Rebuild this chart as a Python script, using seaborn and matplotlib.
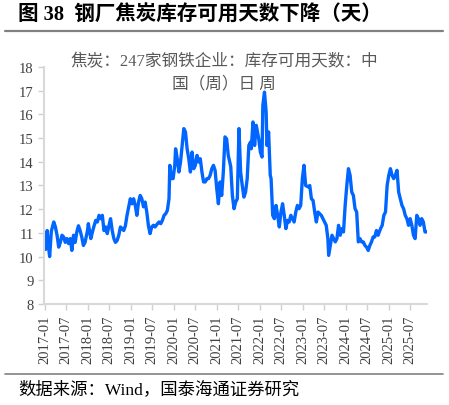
import numpy as np
import pandas as pd
import matplotlib
matplotlib.use('Agg')
import matplotlib.pyplot as plt
import matplotlib.dates as mdates
from matplotlib.lines import Line2D
import seaborn as sns

# weeks since 2017-01-06 and coke inventory days
weeks = [0, 2, 3, 5, 7, 8, 10, 12, 14, 16, 18, 20, 22, 24, 26, 28, 30, 32, 34, 36,
         38, 40, 42, 44, 46, 48, 51, 52, 55, 57, 59, 61, 63, 65, 67, 69, 71, 73, 75, 77,
         79, 81, 83, 85, 87, 89, 91, 93, 95, 97, 99, 101, 103, 105, 107, 109, 111, 113, 115, 117,
         119, 121, 123, 125, 127, 129, 131, 133, 136, 138, 140, 142, 144, 146, 148, 150, 151, 153, 155, 157,
         158, 160, 162, 164, 166, 168, 170, 172, 174, 176, 178, 180, 182, 184, 186, 188, 190, 192, 194, 196,
         198, 200, 202, 204, 206, 208, 210, 212, 214, 216, 218, 220, 222, 225, 227, 229, 231, 233, 235, 237,
         239, 241, 243, 245, 247, 249, 250, 252, 254, 256, 259, 261, 263, 264, 266, 268, 269, 271, 273, 274,
         276, 278, 280, 282, 284, 286, 288, 290, 292, 294, 296, 298, 300, 302, 304, 306, 308, 310, 312, 314,
         316, 319, 321, 323, 325, 327, 329, 331, 333, 335, 337, 339, 341, 343, 344, 346, 348, 350, 352, 354,
         356, 358, 360, 362, 364, 366, 368, 370, 372, 374, 376, 378, 380, 382, 384, 386, 388, 390, 392, 394,
         396, 398, 400, 402, 404, 407, 409, 411, 413, 415, 417, 419, 421, 423, 425, 427, 429, 431, 433, 435,
         437, 439, 441, 443, 445, 447, 449, 451, 453, 455, 457, 459, 461, 463]
days = [10.3, 11.1, 10.6, 10.0, 11.05, 11.2, 11.46, 11.25, 10.9, 10.4, 10.6, 10.9, 10.83, 10.6, 10.76, 10.55, 10.76, 10.26, 10.9, 10.6,
        11.04, 11.3, 11.1, 10.83, 10.47, 10.6, 11.1, 11.39, 10.76, 11.04, 11.3, 11.53, 11.46, 11.74, 11.6, 11.74, 11.1, 11.25, 10.97, 11.3,
        11.6, 11.1, 10.76, 10.6, 10.68, 10.9, 11.25, 11.18, 11.1, 11.3, 11.74, 12.1, 12.44, 12.23, 12.44, 12.16, 11.74, 12.3, 12.58, 12.44,
        12.1, 12.3, 11.88, 11.3, 10.97, 11.25, 11.32, 11.25, 11.39, 11.46, 11.39, 11.53, 11.74, 11.81, 11.95, 12.44, 13.85, 13.29, 13.29, 13.85,
        14.55, 14.13, 13.57, 13.99, 14.69, 15.4, 15.26, 14.55, 14.13, 13.57, 14.41, 13.71, 13.85, 14.27, 13.99, 14.13, 13.57, 13.15, 13.15, 13.29,
        13.29, 13.43, 13.71, 13.85, 13.64, 12.87, 12.23, 13.15, 12.58, 13.57, 15.05, 14.97, 14.27, 13.8, 12.58, 12.02, 12.3, 12.44, 15.4, 13.57,
        13.0, 12.51, 12.72, 13.29, 14.69, 14.83, 14.55, 15.68, 14.69, 15.54, 14.97, 14.41, 14.2, 16.38, 16.94, 16.1, 14.69, 15.26, 13.43, 13.29,
        11.74, 11.6, 12.16, 11.74, 11.25, 11.88, 12.23, 11.74, 11.18, 11.53, 11.46, 11.74, 11.6, 11.46, 11.88, 12.16, 12.02, 12.16, 13.29, 13.85,
        13.0, 12.94, 13.0, 12.44, 12.37, 11.88, 11.46, 11.88, 11.81, 11.74, 11.6, 11.46, 11.32, 10.76, 10.05, 10.47, 10.9, 10.76, 10.62, 10.76,
        11.32, 10.9, 11.18, 11.04, 12.16, 13.0, 13.71, 13.43, 12.72, 12.58, 12.02, 11.88, 10.62, 10.76, 10.62, 10.62, 10.47, 10.4, 10.26, 10.47,
        10.62, 10.83, 10.83, 11.1, 10.9, 11.18, 11.32, 11.74, 11.88, 13.0, 13.43, 13.71, 13.43, 13.29, 13.43, 13.64, 12.72, 12.44, 12.16, 12.02,
        11.74, 11.6, 11.32, 11.6, 11.32, 10.9, 10.76, 11.74, 11.6, 11.32, 11.6, 11.46, 11.04, 11.04]

yticks = list(range(8, 19))
xtick_dates = pd.date_range('2017-01-01', '2025-07-01', freq='6MS')

df = pd.DataFrame({
    'date': pd.Timestamp('2017-01-06') + pd.to_timedelta(np.array(weeks) * 7, unit='D'),
    'days': days,
})

sns.set_style('white')
plt.rcParams['font.family'] = ['Liberation Serif', 'Noto Sans CJK SC']

fig = plt.figure(figsize=(4.49, 4.06), dpi=100)
ax = fig.add_axes([0.098, 0.2488, 0.853, 0.5837])

sns.lineplot(data=df, x='date', y='days', ax=ax, color='#0066ff', lw=2.4)

ax.set_ylim(8, 18)
ax.set_yticks(yticks)
ax.set_xlim(pd.Timestamp('2016-12-24'), pd.Timestamp('2025-11-24'))
ax.set_xticks(xtick_dates)
ax.xaxis.set_major_formatter(mdates.DateFormatter('%Y-%m'))
ax.tick_params(axis='x', labelrotation=90, labelsize=10.5)
ax.tick_params(axis='y', labelsize=10.5)
ax.tick_params(axis='both', colors='#d0d0d0', labelcolor='#404040',
               length=4, width=1, direction='out', left=True, bottom=True)
ax.set_xlabel('')
ax.set_ylabel('')
for s in ['top', 'right']:
    ax.spines[s].set_visible(False)
for s in ['left', 'bottom']:
    ax.spines[s].set_color('#d9d9d9')
    ax.spines[s].set_linewidth(1.5)

# header, series name and source
fig.text(18 / 449, 1 - 16 / 406, '图 38  钢厂焦炭库存可用天数下降（天）', fontsize=14.8,
         fontweight='bold', va='center', ha='left', color='#000000')
fig.add_artist(Line2D([5 / 449, 443 / 449], [1 - 32 / 406] * 2, color='#808080', lw=1.6))
fig.text(224 / 449, 1 - 62 / 406, '焦炭：247家钢铁企业：库存可用天数：中', fontsize=12,
         ha='center', va='center', color='#595959')
fig.text(224 / 449, 1 - 84 / 406, '国（周）日 周', fontsize=12,
         ha='center', va='center', color='#595959')
fig.add_artist(Line2D([5 / 449, 443 / 449], [1 - 375 / 406] * 2, color='#808080', lw=1.2))
fig.text(18 / 449, 1 - 390 / 406, '数据来源：Wind，国泰海通证券研究', fontsize=12.5,
         ha='left', va='center', color='#000000')

fig.savefig('out.png', dpi=100)
